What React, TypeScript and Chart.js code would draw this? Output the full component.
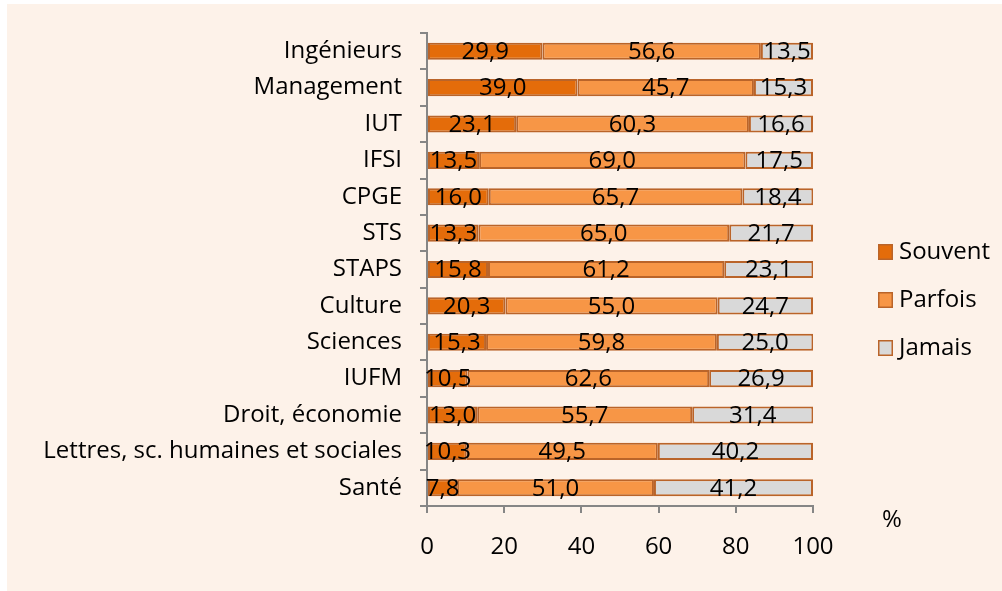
import React, { useEffect, useRef } from "react";
import { Chart, registerables } from "chart.js";

Chart.register(...registerables);

const categories = [
  "Ingénieurs",
  "Management",
  "IUT",
  "IFSI",
  "CPGE",
  "STS",
  "STAPS",
  "Culture",
  "Sciences",
  "IUFM",
  "Droit, économie",
  "Lettres, sc. humaines et sociales",
  "Santé",
];
const souvent = [29.9, 39.0, 23.1, 13.5, 16.0, 13.3, 15.8, 20.3, 15.3, 10.5, 13.0, 10.3, 7.8];
const parfois = [56.6, 45.7, 60.3, 69.0, 65.7, 65.0, 61.2, 55.0, 59.8, 62.6, 55.7, 49.5, 51.0];
const jamais = [13.5, 15.3, 16.6, 17.5, 18.4, 21.7, 23.1, 24.7, 25.0, 26.9, 31.4, 40.2, 41.2];
const seriesNames = ["Souvent", "Parfois", "Jamais"];
const xTicks = [0, 20, 40, 60, 80, 100];
const unitLabel = "%";

const FONT = "'Open Sans', sans-serif";
const FSIZE = 24;
const COLORS = ["#E46C0A", "#F79646", "#D9D9D9"];
const BORDER = "#BA6429";
const AXIS = "#868686";

const fmt = (v: number) => v.toFixed(1).replace(".", ",");

const labelPlugin = {
  id: "segLabels",
  afterDatasetsDraw(chart: any) {
    const ctx = chart.ctx;
    ctx.save();
    ctx.font = `${FSIZE}px ${FONT}`;
    ctx.fillStyle = "#000";
    ctx.textAlign = "center";
    ctx.textBaseline = "middle";
    chart.data.datasets.forEach((ds: any, i: number) => {
      const meta = chart.getDatasetMeta(i);
      meta.data.forEach((el: any, j: number) => {
        const p = el.getProps(["x", "base", "y"], true);
        ctx.fillText(fmt(ds.data[j]), (p.x + p.base) / 2, p.y + 1);
      });
    });
    ctx.restore();
  },
};

const legendPlugin = {
  id: "sideLegend",
  afterDraw(chart: any) {
    const ctx = chart.ctx;
    const x0 = chart.chartArea.right + 65;
    const y0 = 252;
    ctx.save();
    ctx.font = `${FSIZE}px ${FONT}`;
    ctx.textBaseline = "middle";
    ctx.textAlign = "left";
    seriesNames.forEach((name, i) => {
      const y = y0 + i * 48;
      ctx.fillStyle = COLORS[i];
      ctx.fillRect(x0, y - 8, 15, 16);
      ctx.strokeStyle = BORDER;
      ctx.lineWidth = 1.5;
      ctx.strokeRect(x0 + 0.75, y - 7.25, 13.5, 14.5);
      ctx.fillStyle = "#000";
      ctx.fillText(name, x0 + 21, y);
    });
    ctx.fillText(unitLabel, chart.chartArea.right + 69, 520);
    ctx.restore();
  },
};

export default function App() {
  const ref = useRef<HTMLCanvasElement>(null);
  useEffect(() => {
    if (!ref.current) return;
    const data = [souvent, parfois, jamais];
    const chart = new Chart(ref.current, {
      type: "bar",
      data: {
        labels: categories,
        datasets: seriesNames.map((n, i) => ({
          label: n,
          data: data[i],
          backgroundColor: COLORS[i],
          borderColor: BORDER,
          borderWidth: 2,
          borderSkipped: false,
          barPercentage: 0.47,
          categoryPercentage: 1,
        })),
      },
      options: {
        indexAxis: "y",
        animation: false,
        responsive: false,
        maintainAspectRatio: false,
        layout: { padding: { top: 33, right: 189, left: 0, bottom: 0 } },
        plugins: { legend: { display: false }, tooltip: { enabled: false } },
        scales: {
          x: {
            stacked: true,
            min: 0,
            max: 100,
            afterBuildTicks: (s: any) => {
              s.ticks = xTicks.map((v) => ({ value: v }));
            },
            afterFit: (s: any) => {
              s.height = 85;
            },
            grid: {
              drawOnChartArea: false,
              drawTicks: true,
              tickLength: 7,
              color: AXIS,
              lineWidth: 2,
            },
            border: { color: AXIS, width: 2 },
            ticks: {
              padding: 20,
              color: "#000",
              font: { family: FONT, size: FSIZE },
            },
          },
          y: {
            stacked: true,
            afterFit: (s: any) => {
              s.width = 427;
            },
            grid: {
              drawOnChartArea: false,
              drawTicks: true,
              tickLength: 7,
              color: AXIS,
              lineWidth: 2,
              offset: true,
            },
            border: { color: AXIS, width: 2 },
            ticks: {
              padding: 18,
              color: "#000",
              autoSkip: false,
              font: { family: FONT, size: FSIZE },
            },
          },
        },
      },
      plugins: [labelPlugin, legendPlugin],
    });
    return () => chart.destroy();
  }, []);
  return (
    <>
      <div
        style={{
          position: "fixed",
          left: 7,
          top: 4,
          width: 995,
          height: 587,
          background: "#FDF2E9",
        }}
      />
      <canvas
        ref={ref}
        width={1002}
        height={591}
        style={{ position: "fixed", left: 0, top: 0, width: 1002, height: 591 }}
      />
    </>
  );
}
